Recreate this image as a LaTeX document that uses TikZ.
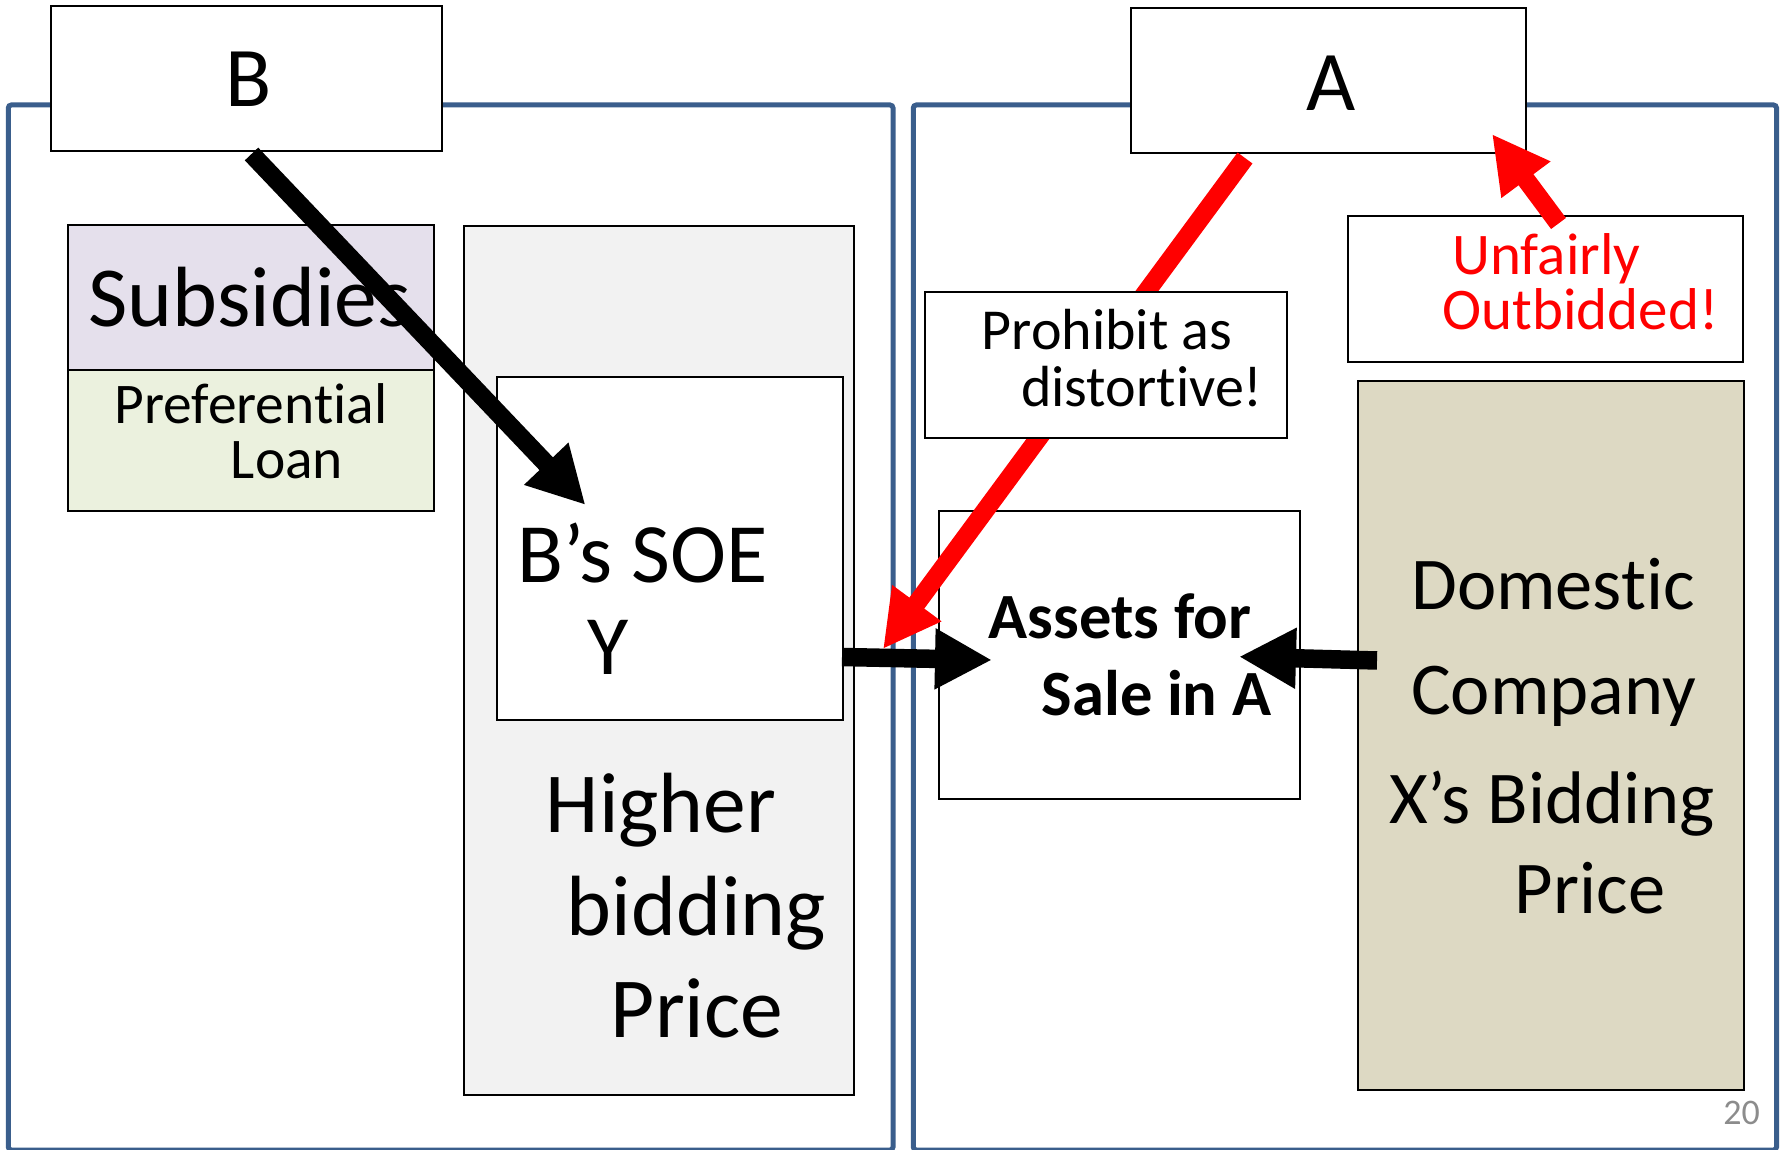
\documentclass[tikz,border=0pt]{standalone}
\usepackage{fontspec}
\setmainfont{Carlito}[Ligatures=NoCommon]
\usetikzlibrary{arrows.meta,calc}

\definecolor{frameblue}{RGB}{58,94,140}
\definecolor{lavender}{RGB}{229,224,236}
\definecolor{palegreen}{RGB}{235,241,222}
\definecolor{lightgray}{RGB}{242,242,242}
\definecolor{khaki}{RGB}{221,217,195}
\definecolor{pagegray}{RGB}{140,140,140}
\definecolor{alarm}{RGB}{255,0,0}

\newcommand\fsz[1]{\fontsize{#1}{#1}\selectfont}

\tikzset{
  frame/.style={draw=frameblue, line width=5pt, rounded corners=3pt},
  box/.style={draw=black, line width=2pt, fill=white, anchor=north west,
              inner sep=0pt, outer sep=0pt},
  lbl/.style={inner sep=0pt, anchor=base},
  fat/.style={line width=18.5pt, -{Triangle[length=57pt,width=57pt]}},
}

\begin{document}
\begin{tikzpicture}[x=1pt,y=-1pt]
\useasboundingbox (0,0) rectangle (1781,1150);

% country frames
\draw[frame] (8.3,105) rectangle (893,1150);
\draw[frame] (913.3,105) rectangle (1776.5,1150);

% country labels
\node[box, minimum width=391pt, minimum height=145pt] (bbox) at (51,6) {};
\node[box, minimum width=395pt, minimum height=145pt] (abox) at (1131,8) {};
\node[lbl, font=\fsz{85}] (btext) at (248.3,107) {B};
\node[lbl, font=\fsz{85}] (atext) at (1331,110.7) {A};

% country B side
\node[box, fill=lavender, minimum width=366pt, minimum height=145pt] (subs) at (68,225) {};
\node[box, fill=palegreen, minimum width=366pt, minimum height=141pt] (pref) at (68,370) {};
\node[box, fill=lightgray, minimum width=390pt, minimum height=868.5pt] (price) at (463.8,226) {};
\node[box, minimum width=346pt, minimum height=343pt] (soe) at (496.5,377) {};

\node[lbl, font=\fsz{85.5}] (substext) at (249.7,327) {Subsidies};
\node[lbl, font=\fsz{57.5}] (preftext1) at (251,423) {Preferential};
\node[lbl, font=\fsz{57.5}] (preftext2) at (287,478.6) {Loan};
\node[lbl, font=\fsz{84.5}] (soetext1) at (642.5,582.6) {B’s SOE};
\node[lbl, font=\fsz{84.5}] (soetext2) at (608,674) {Y};
\node[lbl, font=\fsz{85.5}] (pricetext1) at (661,832.6) {Higher};
\node[lbl, font=\fsz{85.5}] (pricetext2) at (696.5,935) {bidding};
\node[lbl, font=\fsz{85.5}] (pricetext3) at (697,1037.7) {Price};

% country A side
\node[box, minimum width=361pt, minimum height=288pt] (assets) at (939,511) {};
\node[box, minimum width=394.5pt, minimum height=146pt] (unfair) at (1348,216.4) {};
\node[box, fill=khaki, minimum width=386pt, minimum height=709pt] (domestic) at (1358.3,381) {};

% prohibition: runs behind the note box
\coordinate (a-out) at (1245,158);
\coordinate (assets-hit) at (883,649);
\draw[fat, alarm] (a-out) -- (assets-hit);
\node[box, minimum width=362pt, minimum height=145.5pt] (prohibit) at (925,292) {};

\node[lbl, font=\fsz{58}] (prohtext1) at (1107,350) {Prohibit as};
\node[lbl, font=\fsz{58}] (prohtext2) at (1142,406.4) {distortive!};
\node[lbl, font=\fsz{59}, text=alarm] (unfairtext1) at (1546.4,275) {Unfairly};
\node[lbl, font=\fsz{59}, text=alarm] (unfairtext2) at (1580.5,330) {Outbidded!};
\node[lbl, font=\bfseries\fsz{64.5}] (assetstext1) at (1120,638) {Assets for};
\node[lbl, font=\bfseries\fsz{64.5}] (assetstext2) at (1156.5,715) {Sale in A};
\node[lbl, font=\fsz{74.5}] (domtext1) at (1553,609) {Domestic};
\node[lbl, font=\fsz{74.5}] (domtext2) at (1553.5,714) {Company};
\node[lbl, font=\fsz{74.5}] (domtext3) at (1552,823) {X’s Bidding};
\node[lbl, font=\fsz{74.5}] (domtext4) at (1590,913) {Price};

% page number
\node[lbl, font=\fsz{36}, text=pagegray] (pagenum) at (1741.5,1124) {20};

% arrows
\coordinate (b-out) at (251.5,154);
\coordinate (soe-in) at (585.5,505);
\draw[fat, black] (b-out) -- (soe-in);

\coordinate (soe-out) at (842,657);
\coordinate (assets-left) at (992,660);
\draw[fat, black] (soe-out) -- (assets-left);

\coordinate (dom-out) at (1377,660.5);
\coordinate (assets-right) at (1239,656.7);
\draw[fat, black] (dom-out) -- (assets-right);

\coordinate (unfair-out) at (1558.5,223.5);
\coordinate (a-in) at (1492,134);
\draw[fat, alarm] (unfair-out) -- (a-in);
\end{tikzpicture}
\end{document}
